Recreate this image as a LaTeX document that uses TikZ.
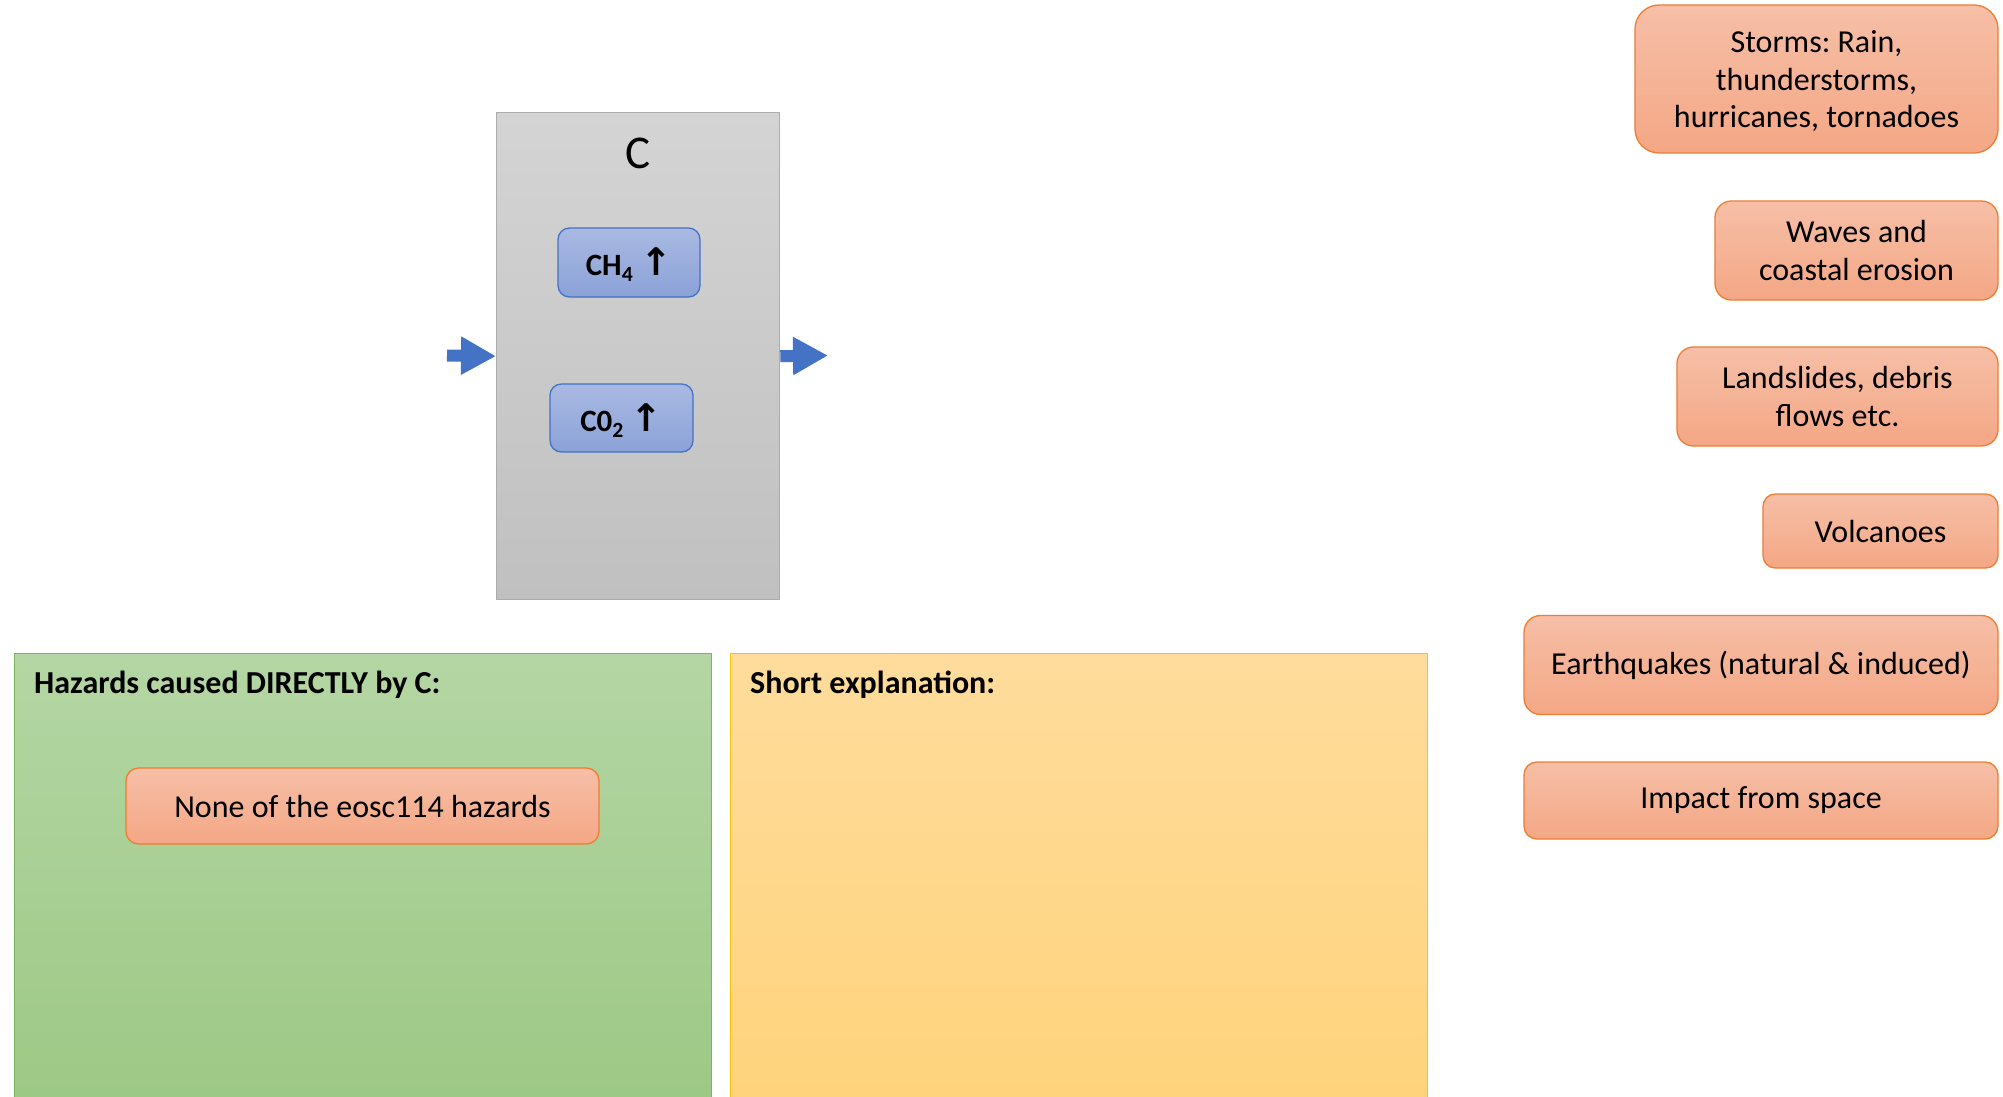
\documentclass[tikz,border=0pt]{standalone}
\usepackage{fontspec}
\setmainfont{Carlito}
\newfontfamily\arrowfont{DejaVu Sans}
\usetikzlibrary{arrows.meta}
\frenchspacing

\definecolor{hzline}{HTML}{ED7D31}
\definecolor{hztop}{HTML}{F6BFA7}
\definecolor{hzbot}{HTML}{F4A785}
\definecolor{gasline}{HTML}{4472C4}
\definecolor{gastop}{HTML}{A9B9E2}
\definecolor{gasbot}{HTML}{8BA2D8}
\definecolor{flowblue}{HTML}{4472C4}
\definecolor{cline}{HTML}{ACACAC}
\definecolor{ctop}{HTML}{D4D4D4}
\definecolor{cbot}{HTML}{C0C0C0}
\definecolor{grline}{HTML}{7DB45C}
\definecolor{grtop}{HTML}{B4D6A4}
\definecolor{grbot}{HTML}{9CC884}
\definecolor{ylline}{HTML}{FFC000}
\definecolor{yltop}{HTML}{FFDC9C}
\definecolor{ylbot}{HTML}{FFD37B}

\newcommand{\uparr}{{\arrowfont\bfseries\fontsize{38}{38}\selectfont ↑}}

\tikzset{
  hazard/.style={draw=hzline, line width=1.3pt, top color=hztop, bottom color=hzbot,
    align=center, inner sep=0pt, text=black,
    font=\fontsize{32}{37.5}\selectfont},
  gas/.style={draw=gasline, line width=1.3pt, top color=gastop, bottom color=gasbot,
    inner sep=0pt, text=black, text depth=1pt, font=\fontsize{31}{34}\selectfont\bfseries},
  panel/.style={line width=1.3pt, anchor=north west, inner sep=0pt},
  paneltitle/.style={anchor=base west, inner sep=0pt,
    font=\fontsize{32}{38}\selectfont\bfseries},
  flow/.style={draw=flowblue, line width=12pt, -{Triangle[length=35pt,width=36pt]}},
}

\begin{document}
\begin{tikzpicture}[x=1pt,y=-1pt]
\clip (0,0) rectangle (2003,1096);
\fill[white] (0,0) rectangle (2003,1096);

% the process box C with its two gases
\node[panel, draw=cline, top color=ctop, bottom color=cbot,
      minimum width=283pt, minimum height=487pt] (C) at (496,112) {};
\node[anchor=base, inner sep=0pt, font=\fontsize{47}{50}\selectfont] (Clabel) at (638,168) {C};
\node[gas, minimum width=142pt, minimum height=69pt, rounded corners=11.5pt] (ch4)
      at (629,262.5) {CH\textsubscript{4} \uparr};
\node[gas, minimum width=143pt, minimum height=68pt, rounded corners=11.3pt] (co2)
      at (621.5,418) {C0\textsubscript{2} \uparr};

% flows into and out of C
\coordinate (inflow) at (447,355.5);
\coordinate (outflow) at (828,355.5);
\draw[flow] (inflow) -- (C.west);
\draw[flow] (C.east) -- (outflow);

% answer panels
\node[panel, draw=grline, top color=grtop, bottom color=grbot,
      minimum width=697pt, minimum height=460pt] (direct) at (14,653) {};
\node[paneltitle] (directtitle) at (34,693) {Hazards caused DIRECTLY by C:};
\node[hazard, minimum width=473pt, minimum height=76pt, rounded corners=12.6pt] (none)
      at (362.5,806) {None of the eosc114 hazards};

\node[panel, draw=ylline, top color=yltop, bottom color=ylbot,
      minimum width=697pt, minimum height=460pt] (explain) at (730,653) {};
\node[paneltitle] (explaintitle) at (750,693) {Short explanation:};

% list of hazards
\node[hazard, minimum width=363pt, minimum height=148pt, rounded corners=24pt] (storms)
      at (1816.5,79) {\strut Storms: Rain,\\thunderstorms,\\hurricanes, tornadoes};
\node[hazard, minimum width=283pt, minimum height=99pt, rounded corners=16.5pt] (waves)
      at (1856.5,250.5) {Waves and\\coastal erosion};
\node[hazard, minimum width=321pt, minimum height=99pt, rounded corners=16.5pt] (slides)
      at (1837.5,396.5) {Landslides, debris\\flows etc.};
\node[hazard, minimum width=235pt, minimum height=74pt, rounded corners=12.3pt] (volc)
      at (1880.5,531) {Volcanoes};
\node[hazard, minimum width=474pt, minimum height=99pt, rounded corners=16.5pt] (quakes)
      at (1761,665) {Earthquakes (natural \& induced)};
\node[hazard, minimum width=474pt, minimum height=77pt, rounded corners=12.8pt] (impact)
      at (1761,800.5) {Impact from space};
\end{tikzpicture}
\end{document}
